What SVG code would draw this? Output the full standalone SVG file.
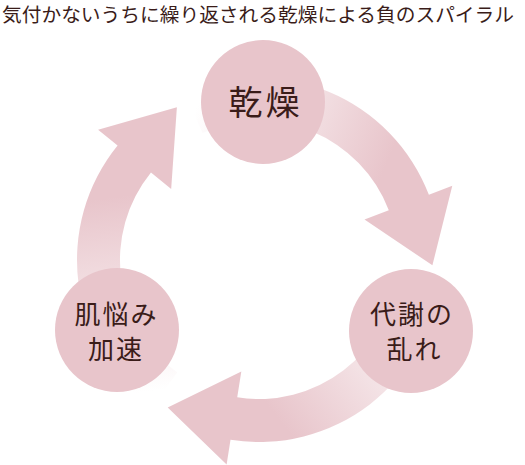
<svg xmlns="http://www.w3.org/2000/svg" width="525" height="465" viewBox="0 0 525 465">
<style>
.node{fill:#e8c5cb}
.lbl{font-family:"Noto Sans CJK JP","Noto Sans CJK SC",sans-serif;fill:#3a1c19;text-anchor:middle}
.big{font-size:34px;letter-spacing:3px}
.small{font-size:26px;letter-spacing:2px}
.title{font-family:"Noto Sans CJK JP","Noto Sans CJK SC",sans-serif;fill:#3a1c19;font-size:19px}
</style>
<defs>
<linearGradient id="ag" gradientUnits="userSpaceOnUse" x1="193.9" y1="113.8" x2="408.4" y2="202.7">
<stop offset="0" stop-color="#ffffff"/>
<stop offset="0.85" stop-color="#e8c5cb"/>
</linearGradient>
<path id="arrow" fill="url(#ag)" d="M185.0,93.7 A182,182 0 0 1 428.9,194.8 L452.3,185.8 L432.4,265.3 L364.5,219.5 L388.8,210.2 A139,139 0 0 0 202.5,133.0 Z"/>
</defs>
<rect width="525" height="465" fill="#ffffff"/>
<text class="title" x="2" y="22" textLength="512" lengthAdjust="spacingAndGlyphs">気付かないうちに繰り返される乾燥による負のスパイラル</text>
<g id="connectors">
<use href="#arrow"/>
<use href="#arrow" transform="rotate(120 259 260)"/>
<use href="#arrow" transform="rotate(240 259 260)"/>
</g>
<g id="node-kanso">
<circle class="node" cx="263" cy="102" r="62"/>
<text class="lbl big" x="265.5" y="114.5">乾燥</text>
</g>
<g id="node-taisha">
<circle class="node" cx="411" cy="331" r="62"/>
<text class="lbl small" x="412" y="323.5">代謝の</text>
<text class="lbl small" x="414.5" y="358.5">乱れ</text>
</g>
<g id="node-hadanayami">
<circle class="node" cx="117" cy="330" r="62"/>
<text class="lbl small" x="116.5" y="323.5">肌悩み</text>
<text class="lbl small" x="116" y="358.5">加速</text>
</g>
</svg>
